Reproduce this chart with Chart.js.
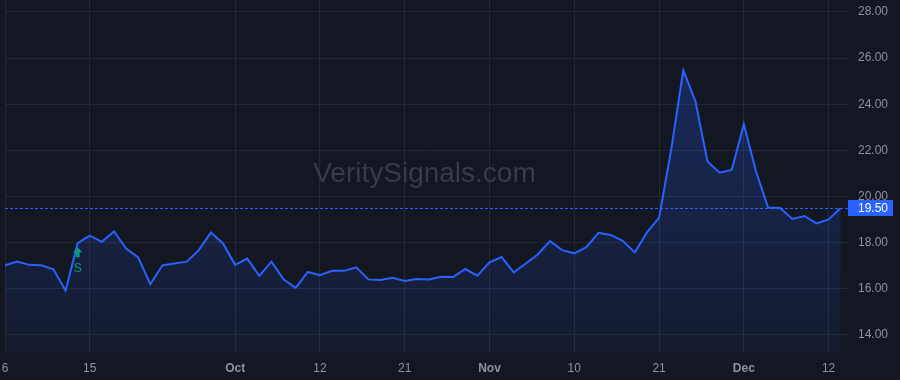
<!DOCTYPE html>
<html>
<head>
<meta charset="utf-8">
<script src="https://cdn.jsdelivr.net/npm/chart.js@4"></script>
<style>
  html, body { margin: 0; padding: 0; background: #131722; }
  #wrap { width: 900px; height: 380px; position: relative; }
</style>
</head>
<body>
<div id="wrap"><canvas id="chart"></canvas></div>
<script>
// ================================
//            DATA
// ================================
const prices = [
  17.01, 17.17, 17.03, 17.01, 16.84, 15.91, 17.97, 18.30, 18.03, 18.48,
  17.74, 17.35, 16.19, 17.01, 17.09, 17.17, 17.67, 18.43, 17.96, 17.03,
  17.30, 16.55, 17.17, 16.40, 16.03, 16.72, 16.58, 16.77, 16.77, 16.92,
  16.40, 16.37, 16.47, 16.33, 16.42, 16.40, 16.51, 16.50, 16.85, 16.56,
  17.14, 17.37, 16.70, 17.09, 17.49, 18.06, 17.67, 17.53, 17.80, 18.42,
  18.33, 18.07, 17.57, 18.44, 19.07, 22.02, 25.47, 24.14, 21.51, 21.03,
  21.15, 23.13, 21.09, 19.52, 19.50, 19.02, 19.15, 18.83, 19.00, 19.50
];

// x-axis tick labels and the bar index where each one sits
const tickIndex = [0, 7, 19, 26, 33, 40, 47, 54, 61, 68];
const tickText = ["6", "15", "Oct", "12", "21", "Nov", "10", "21", "Dec", "12"];
const monthTicks = ["Oct", "Nov", "Dec"];

const yTicks = [14, 16, 18, 20, 22, 24, 26, 28];
const lastPrice = 19.50;

// buy signal markers
const signalIndex = [6];
const signalText = ["S"];

// ================================
//          COLOURS
// ================================
const bg = "#131722";
const lineBlue = "#2962ff";
const gridColor = "#242833";
const textColor = "#8f929b";
const signalGreen = "#089981";
const fontFamily = "'Liberation Sans', Arial, sans-serif";

const points = prices.map((v, i) => ({ x: i, y: v }));

// ================================
//          PLUGINS
// ================================
const background = {
  id: "background",
  beforeDraw(chart) {
    const ctx = chart.ctx;
    ctx.save();
    ctx.fillStyle = bg;
    ctx.fillRect(0, 0, chart.width, chart.height);
    ctx.restore();
  },
};

const watermark = {
  id: "watermark",
  beforeDatasetsDraw(chart) {
    const { ctx, chartArea } = chart;
    ctx.save();
    ctx.font = "28px " + fontFamily;
    ctx.fillStyle = "#373b47";
    ctx.textAlign = "center";
    ctx.textBaseline = "alphabetic";
    ctx.fillText("VeritySignals.com", (chartArea.left + chartArea.right) / 2 - 2, 182);
    ctx.restore();
  },
};

const priceLine = {
  id: "priceLine",
  afterDatasetsDraw(chart) {
    const { ctx, chartArea, scales } = chart;
    const y = Math.round(scales.y.getPixelForValue(lastPrice)) + 0.5;
    ctx.save();
    ctx.strokeStyle = lineBlue;
    ctx.lineWidth = 1.2;
    ctx.setLineDash([3, 2]);
    ctx.beginPath();
    ctx.moveTo(chartArea.left, y);
    ctx.lineTo(chartArea.right, y);
    ctx.stroke();
    ctx.restore();

    // signal arrows
    signalIndex.forEach((idx, n) => {
      const x = scales.x.getPixelForValue(idx);
      const py = scales.y.getPixelForValue(prices[idx]);
      const top = py + 4;
      ctx.save();
      ctx.fillStyle = signalGreen;
      ctx.beginPath();
      ctx.moveTo(x, top);
      ctx.lineTo(x + 4.5, top + 5);
      ctx.lineTo(x + 2, top + 5);
      ctx.lineTo(x + 2, top + 10);
      ctx.lineTo(x - 2, top + 10);
      ctx.lineTo(x - 2, top + 5);
      ctx.lineTo(x - 4.5, top + 5);
      ctx.closePath();
      ctx.fill();
      ctx.font = "12px " + fontFamily;
      ctx.textAlign = "center";
      ctx.textBaseline = "middle";
      ctx.fillText(signalText[n], x, top + 21);
      ctx.restore();
    });
  },
  afterDraw(chart) {
    const { ctx, chartArea, scales } = chart;
    const y = scales.y.getPixelForValue(lastPrice);
    ctx.save();
    ctx.fillStyle = lineBlue;
    ctx.fillRect(chartArea.right, Math.round(y) - 8, 45, 16);
    ctx.fillStyle = "#ffffff";
    ctx.font = "12px " + fontFamily;
    ctx.textAlign = "left";
    ctx.textBaseline = "middle";
    ctx.fillText(lastPrice.toFixed(2), chartArea.right + 10, Math.round(y) + 0.5);
    ctx.restore();
  },
};

// ================================
//          CHART INIT
// ================================
new Chart(document.getElementById("chart"), {
  type: "line",
  data: {
    datasets: [
      {
        data: points,
        borderColor: lineBlue,
        borderWidth: 2,
        pointRadius: 0,
        tension: 0,
        fill: "start",
        backgroundColor: (c) => {
          const area = c.chart.chartArea;
          if (!area) return "rgba(41,98,255,0.15)";
          const g = c.chart.ctx.createLinearGradient(0, area.top, 0, area.bottom);
          g.addColorStop(0, "rgba(41,98,255,0.30)");
          g.addColorStop(1, "rgba(41,98,255,0.06)");
          return g;
        },
      },
    ],
  },
  options: {
    responsive: true,
    maintainAspectRatio: false,
    animation: false,
    layout: { padding: { left: 5, top: 0, right: 0, bottom: 0 } },
    plugins: {
      legend: { display: false },
      tooltip: { enabled: false },
    },
    scales: {
      x: {
        type: "linear",
        min: 0,
        max: 69.6,
        border: { display: false },
        grid: { drawTicks: false, color: gridColor },
        afterBuildTicks: (axis) => {
          axis.ticks = tickIndex.map((v) => ({ value: v }));
        },
        ticks: {
          autoSkip: false,
          maxRotation: 0,
          padding: 9,
          color: textColor,
          font: (c) => ({
            family: fontFamily,
            size: 12,
            weight: c.tick && monthTicks.includes(c.tick.label) ? "bold" : "normal",
          }),
          callback: (v) => tickText[tickIndex.indexOf(v)],
        },
        afterFit: (axis) => {
          axis.height = 28;
          axis.paddingLeft = 0;
          axis.paddingRight = 0;
        },
      },
      y: {
        position: "right",
        min: 13.25,
        max: 28.52,
        border: { display: false },
        grid: { drawTicks: false, color: gridColor },
        afterBuildTicks: (axis) => {
          axis.ticks = yTicks.map((v) => ({ value: v }));
        },
        ticks: {
          padding: 10,
          color: textColor,
          font: { family: fontFamily, size: 12 },
          callback: (v) => Number(v).toFixed(2),
        },
        afterFit: (axis) => {
          axis.width = 52;
          axis.paddingTop = 0;
          axis.paddingBottom = 0;
        },
      },
    },
  },
  plugins: [background, watermark, priceLine],
});
</script>
</body>
</html>
